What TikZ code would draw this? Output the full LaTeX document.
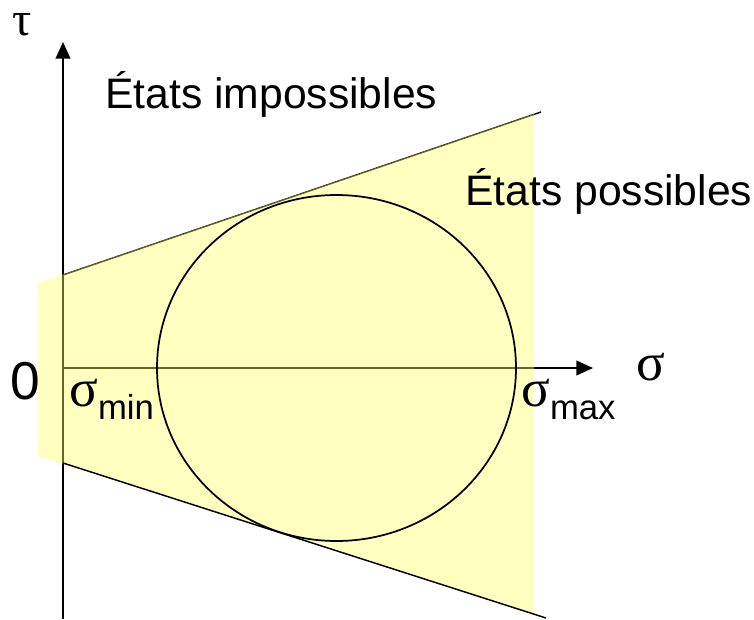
\documentclass[tikz,border=0pt]{standalone}
\usepackage{fontspec}
\setmainfont{Liberation Sans}
\newfontfamily\greekfont{Liberation Serif}
\usetikzlibrary{arrows.meta}

\definecolor{zonefill}{RGB}{255,255,96}
\newcommand{\lowidx}[1]{\raisebox{-9.75pt}{\normalfont\fontsize{26}{30}\selectfont #1}}

\begin{document}
\begin{tikzpicture}[
        x=0.75pt, y=-0.75pt,
        axis/.style={line width=1.5pt, -{Triangle[length=12.5pt, width=11pt]}},
        bound/.style={line width=1.1pt},
        zone/.style={fill=zonefill, fill opacity=0.4, draw=none},
        lbl/.style={inner sep=0, anchor=base west, font=\fontsize{32}{38}\selectfont},
        grk/.style={inner sep=0, anchor=base west, font=\fontsize{40}{46}\selectfont\greekfont},
        num/.style={inner sep=0, anchor=base west, font=\fontsize{40}{46}\selectfont},
    ]
    \useasboundingbox (0,0) rectangle (754,619);

    % key points
    \coordinate (O) at (63,368);
    \coordinate (ybot) at (63,619);
    \coordinate (ytop) at (63,42);
    \coordinate (xend) at (593,368);
    \coordinate (upA) at (63,275);
    \coordinate (upB) at (541,112);
    \coordinate (loA) at (63,463);
    \coordinate (loB) at (546,618);

    % axes and upper bound, seen through the zone
    \draw[axis] (ybot) -- (ytop);
    \draw[axis] (O) -- (xend);
    \draw[bound] (upA) -- (upB);

    % possible states
    \fill[zone] (38,283) -- (534,114) -- (534,614) -- (38,456) -- cycle;

    \draw[bound] (loA) -- (loB);
    \draw[line width=1.3pt] (336.5,368) ellipse [x radius=179.5, y radius=173];

    % labels
    \node[grk, font=\fontsize{36}{42}\selectfont\greekfont, text height=0.5em] (tau) at (12,35) {τ};
    \node[grk] (sig) at (636,380) {σ};
    \node[num] (zero) at (10,399) {0};
    \node[grk] (smin) at (69,406) {σ\lowidx{min}};
    \node[grk] (smax) at (521,406) {σ\lowidx{max}};
    \node[lbl] (imp) at (105,108) {États impossibles};
    \node[lbl] (pos) at (465,205) {États possibles};
\end{tikzpicture}
\end{document}
